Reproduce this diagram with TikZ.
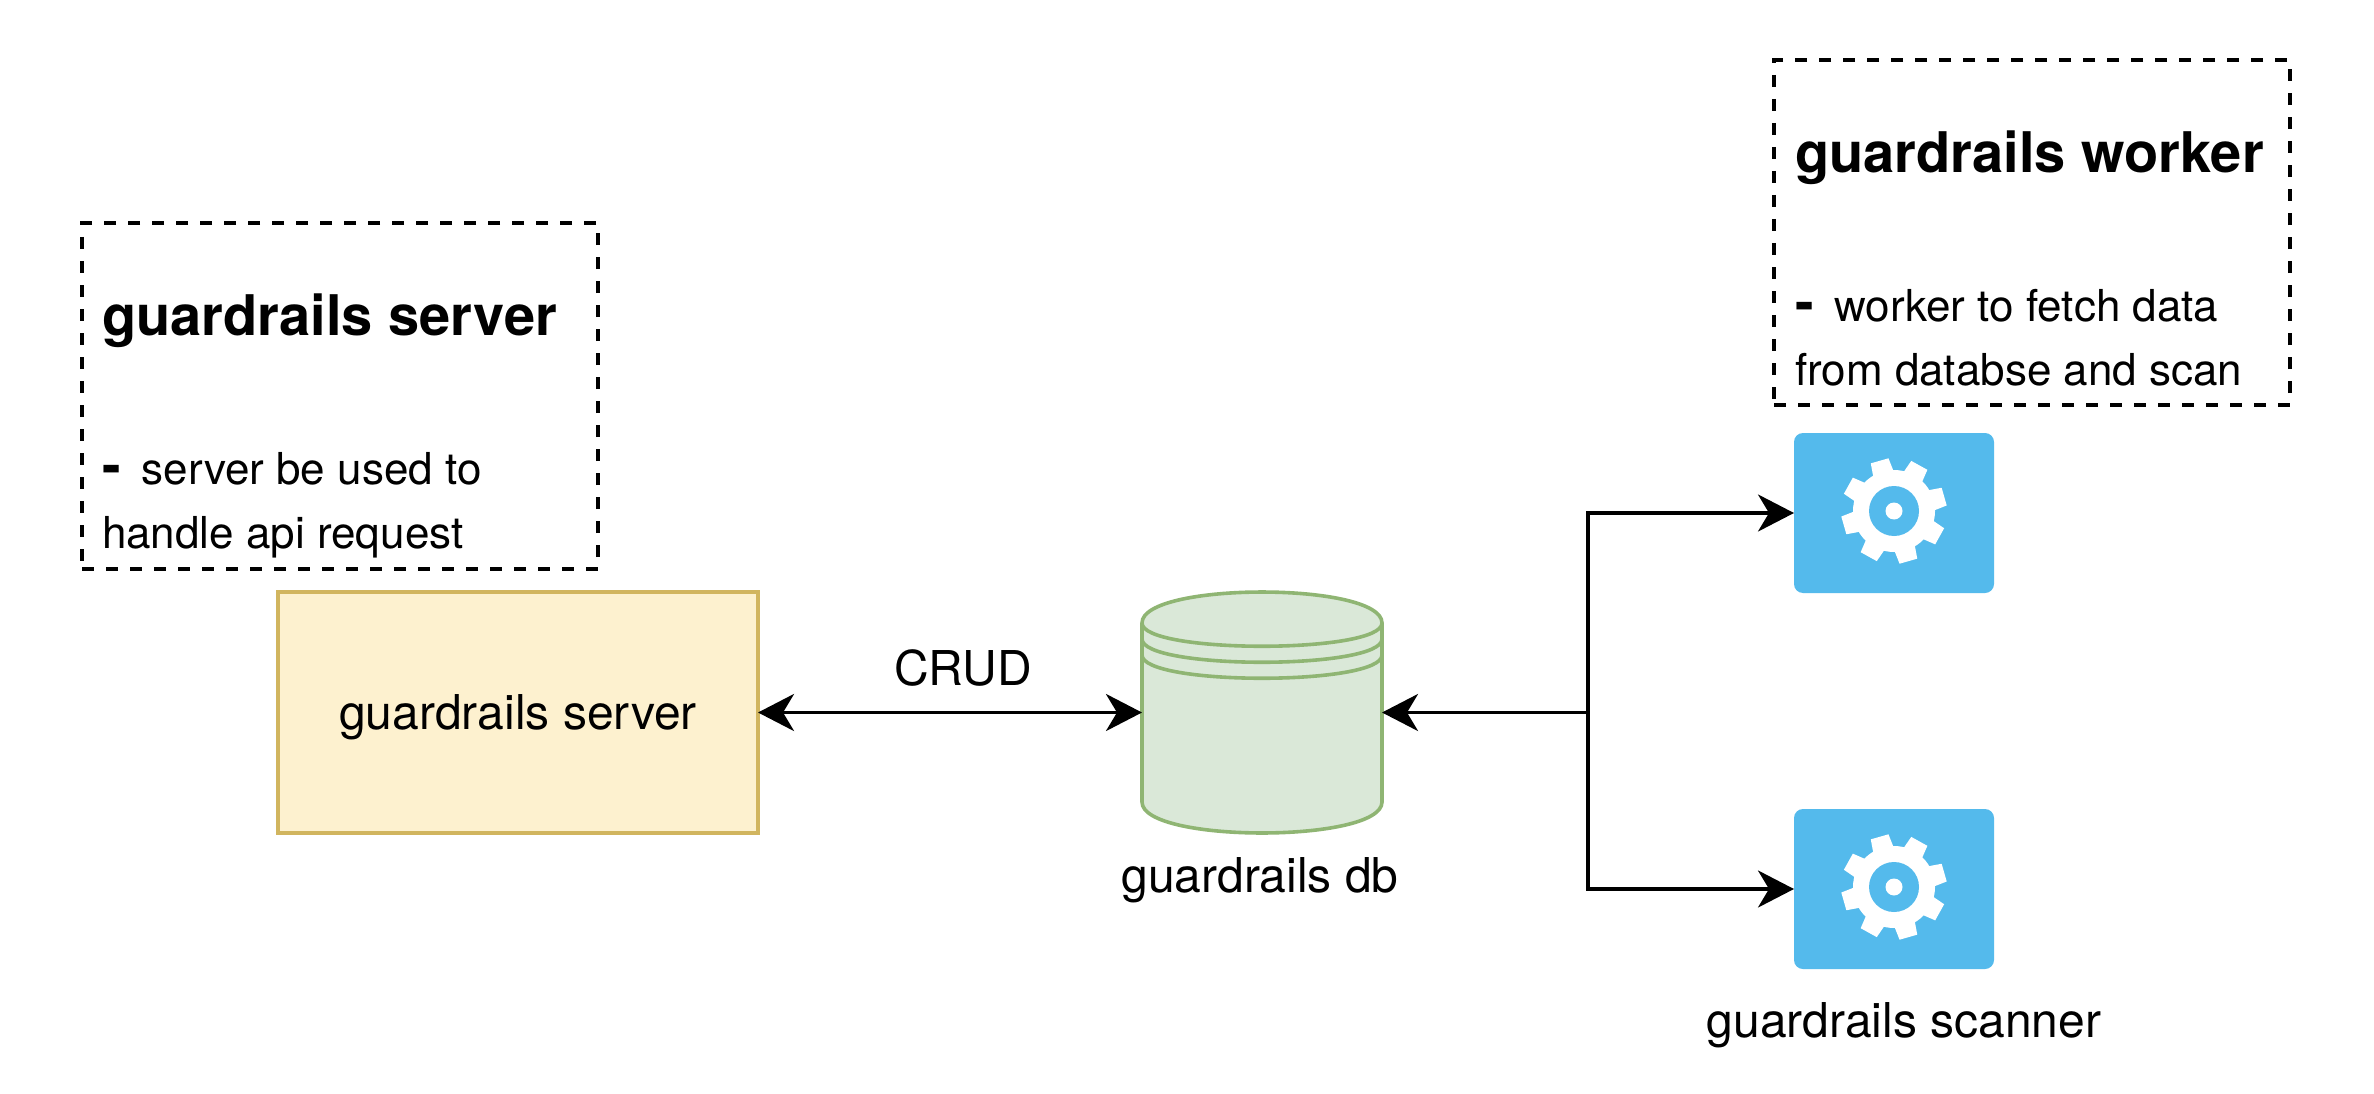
\documentclass[tikz,border=0pt]{standalone}
\usepackage{fontspec}
\setmainfont{TeX Gyre Heros}
\usetikzlibrary{arrows.meta,positioning,calc}
\definecolor{srvfill}{HTML}{FDF1CF}
\definecolor{srvline}{HTML}{D1B55F}
\definecolor{dbfill}{HTML}{DAE8D8}
\definecolor{dbline}{HTML}{8FB573}
\definecolor{iconblue}{HTML}{54BAEC}
\newcommand{\bodyfont}{\fontsize{48}{56}\selectfont}
\newcommand{\notefont}{\fontsize{44}{64}\selectfont}
\newcommand{\titlefont}{\fontsize{56}{64}\selectfont\bfseries}
\tikzset{
  x=1pt,y=-1pt,
  conn/.style={line width=3.8pt,black},
  notebox/.style={draw=black,line width=3.6pt,dash pattern=on 12pt off 12pt,inner sep=0pt,outer sep=0pt},
  notetext/.style={anchor=north west,inner sep=0pt,outer sep=0pt,align=left,font=\notefont},
  label/.style={anchor=base,inner sep=0pt,outer sep=0pt,font=\bodyfont},
  serverbox/.style={draw=srvline,fill=srvfill,line width=3.6pt,inner sep=0pt,outer sep=0pt,font=\bodyfont},
  dbbox/.style={inner sep=0pt,outer sep=0pt},
  dbshape/.style={draw=dbline,line width=3.6pt},
  iconbox/.style={fill=iconblue,rounded corners=9pt,inner sep=0pt,outer sep=0pt},
  cogwheel/.pic={
    \fill[white] (0,0) circle[radius=41];
    \foreach \a in {254,299,344,29,74,119,164,209}{
      \fill[white] (\a-17:37) -- (\a-10:53) -- (\a+10:53) -- (\a+17:37) -- cycle;
    }
    \fill[iconblue] (0,0) circle[radius=25];
    \fill[white] (0,0) circle[radius=8.5];
  },
}
\begin{document}
\begin{tikzpicture}
\useasboundingbox (0,0) rectangle (2374,1094);
\fill[white] (0,0) rectangle (2374,1094);

% notes
\node[notebox,minimum width=516pt,minimum height=346pt,anchor=north west] (servernote) at (82,223) {};
\node[notetext] (servertext) at (102,294) {{\titlefont guardrails server}\\[85pt]{\titlefont-}\hspace{21pt}server be used to\\handle api request};
\node[notebox,minimum width=516pt,minimum height=345pt,anchor=north west] (workernote) at (1774,60) {};
\node[notetext] (workertext) at (1795,131) {{\titlefont guardrails worker}\\[85pt]{\titlefont-}\hspace{21pt}worker to fetch data\\from databse and scan};

% main nodes
\node[serverbox,minimum width=480pt,minimum height=241pt,anchor=north west] (server) at (278,592) {\raisebox{-17pt}[0pt][0pt]{guardrails server}};
\node[dbbox,minimum width=240pt,minimum height=241pt,anchor=north west] (db) at (1142,592) {};
\begin{scope}[shift={(db.north west)}]
  \path[dbshape,fill=dbfill] (0,31) .. controls (0,-10.3) and (240,-10.3) .. (240,31)
     -- (240,210) .. controls (240,251.3) and (0,251.3) .. (0,210) -- cycle;
  \draw[dbshape] (0,31) .. controls (0,62) and (240,62) .. (240,31);
  \draw[dbshape] (0,47) .. controls (0,78) and (240,78) .. (240,47);
  \draw[dbshape] (0,63) .. controls (0,94) and (240,94) .. (240,63);
\end{scope}
\node[iconbox,minimum width=200pt,minimum height=160pt,anchor=north west] (worker) at (1794,433) {};
\node[iconbox,minimum width=200pt,minimum height=160pt,anchor=north west] (scanner) at (1794,809) {};
\pic at ($(worker.center)+(0,-2)$) {cogwheel};
\pic at ($(scanner.center)+(0,-2)$) {cogwheel};

% labels
\node[label] (dblabel) at (1260,892) {guardrails db};
\node[label] (scannerlabel) at (1904,1037) {guardrails scanner};
\node[label] (crud) at (963,685) {CRUD};

% connectors
\coordinate (junction) at ($(db.east)+(206,0)$);
\draw[conn,{Stealth[length=36pt,width=37pt,inset=11pt]}-{Stealth[length=36pt,width=37pt,inset=11pt]}] (server.east) -- (db.west);
\draw[conn,{Stealth[length=36pt,width=37pt,inset=11pt]}-] (db.east) -- (junction);
\draw[conn,-{Stealth[length=36pt,width=37pt,inset=11pt]}] (junction) |- (worker.west);
\draw[conn,-{Stealth[length=36pt,width=37pt,inset=11pt]}] (junction) |- (scanner.west);
\end{tikzpicture}
\end{document}
